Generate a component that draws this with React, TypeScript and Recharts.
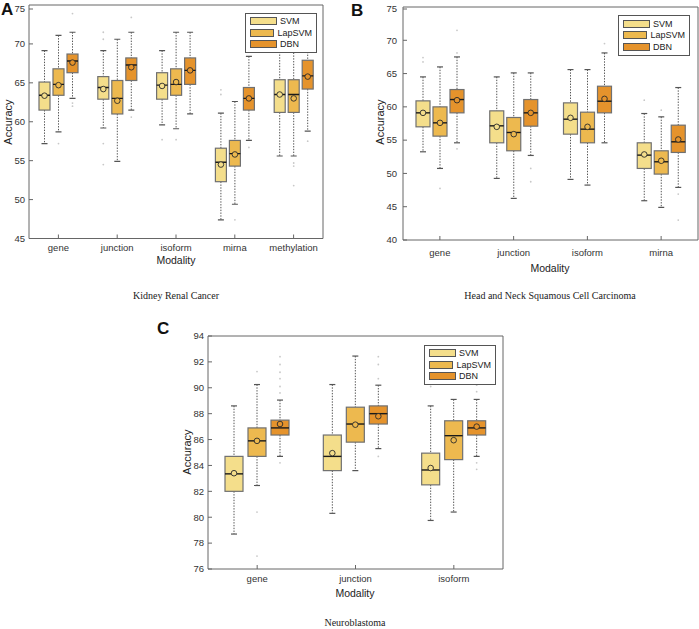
import React from 'react';
import { ComposedChart, Bar, XAxis, YAxis, Legend } from 'recharts';

// every box: [lower whisker, Q1, median, Q3, upper whisker, mean]
const kidneyCats = ['gene', 'junction', 'isoform', 'mirna', 'methylation'];
const kidneySvm = [
  [57.2, 61.5, 63.4, 65.1, 69.15, 63.35],
  [59.2, 62.9, 64.4, 65.8, 69.15, 64.2],
  [59.6, 62.9, 64.7, 66.3, 69.15, 64.6],
  [47.4, 52.3, 54.8, 56.6, 61.1, 54.5],
  [55.6, 61.2, 63.5, 65.4, 69.0, 63.5],
];
const kidneyLap = [
  [58.7, 63.4, 64.8, 66.8, 71.1, 64.7],
  [54.9, 61.0, 63.0, 65.3, 70.6, 62.7],
  [59.1, 63.4, 64.8, 66.8, 71.5, 65.1],
  [49.4, 54.3, 55.9, 57.6, 62.6, 55.8],
  [55.6, 61.2, 63.5, 65.4, 71.4, 63.0],
];
const kidneyDbn = [
  [63.0, 66.3, 67.8, 68.7, 71.5, 67.6],
  [61.5, 65.3, 67.3, 68.2, 71.5, 67.0],
  [61.0, 64.8, 66.6, 68.2, 71.5, 66.6],
  [57.6, 61.5, 63.0, 64.4, 68.4, 63.0],
  [58.8, 64.2, 65.9, 67.9, 71.5, 65.8],
];
const kidneySvmOut = [[], [71.5, 70.6, 57.2, 54.5], [57.7], [64.1, 63.5], []];
const kidneyLapOut = [[57.2], [], [57.7], [47.4], [54.7, 54.3, 51.8]];
const kidneyDbnOut = [[73.9, 62.4, 62.0], [73.4, 60.6], [], [56.7], [57.5]];

const hnscCats = ['gene', 'junction', 'isoform', 'mirna'];
const hnscSvm = [
  [53.25, 57.0, 59.1, 60.9, 64.5, 59.1],
  [49.25, 54.6, 57.15, 59.4, 64.5, 57.0],
  [49.1, 55.9, 58.15, 60.6, 65.6, 58.35],
  [45.9, 50.75, 52.75, 54.6, 59.0, 52.85],
];
const hnscLap = [
  [50.75, 55.6, 57.6, 60.0, 66.0, 57.6],
  [46.25, 53.4, 56.15, 58.4, 65.1, 55.9],
  [48.25, 54.6, 56.65, 59.2, 65.6, 57.0],
  [44.9, 49.9, 51.75, 53.4, 58.5, 51.9],
];
const hnscDbn = [
  [54.6, 59.1, 61.1, 62.6, 67.5, 61.0],
  [52.7, 57.1, 59.1, 61.1, 65.1, 59.1],
  [54.6, 59.1, 60.85, 63.1, 68.1, 61.2],
  [47.9, 53.15, 54.75, 57.25, 62.9, 55.1],
];
const hnscSvmOut = [[67.4, 66.75], [], [], [61.0]];
const hnscLapOut = [[47.75], [], [], [59.5]];
const hnscDbnOut = [[71.5, 68.1, 53.7], [50.75, 48.75], [69.5], [46.9, 43.0]];

const neuroCats = ['gene', 'junction', 'isoform'];
const neuroSvm = [
  [78.7, 82.0, 83.35, 84.7, 88.6, 83.4],
  [80.3, 83.6, 84.7, 86.35, 90.25, 84.95],
  [79.75, 82.5, 83.65, 84.95, 88.6, 83.8],
];
const neuroLap = [
  [82.45, 84.7, 85.9, 86.9, 90.25, 85.9],
  [83.6, 85.8, 87.2, 88.5, 92.45, 87.15],
  [80.4, 84.45, 86.3, 87.45, 89.1, 85.95],
];
const neuroDbn = [
  [84.7, 86.35, 86.9, 87.5, 89.05, 87.2],
  [85.3, 87.2, 88.0, 88.6, 90.2, 87.8],
  [84.7, 86.35, 86.9, 87.45, 89.1, 87.0],
];
const neuroSvmOut = [[], [], [90.1]];
const neuroLapOut = [[91.25, 80.4, 77.0], [], []];
const neuroDbnOut = [[92.4, 91.8, 91.2, 90.7, 90.1, 89.6, 84.2], [92.4, 91.8, 90.7, 84.7], [90.2, 89.7, 84.2, 83.7]];

const kidneyTicks = [45, 50, 55, 60, 65, 70, 75];
const hnscTicks = [40, 45, 50, 55, 60, 65, 70, 75];
const neuroTicks = [76, 78, 80, 82, 84, 86, 88, 90, 92, 94];

const seriesKeys = ['svm', 'lap', 'dbn'];
const seriesNames = ['SVM', 'LapSVM', 'DBN'];
const seriesColors = ['#f4de8b', '#edb94f', '#e5932c'];

const SANS = '"Liberation Sans", Arial, sans-serif';
const SERIF = '"Liberation Serif", "Times New Roman", serif';

function buildRows(cats: string[], stats: number[][][], outs: number[][][]) {
  return cats.map((cat, i) => {
    const row: any = { cat };
    seriesKeys.forEach((k, j) => {
      row[k] = stats[j][i];
      row[k + 'Out'] = outs[j][i];
    });
    return row;
  });
}

const boxShape = (key: string, fill: string, capW: number) => (props: any) => {
  const { x, y, width, height, payload } = props;
  const s: number[] = payload[key];
  const out: number[] = payload[key + 'Out'] || [];
  const top = Math.min(y, y + height);
  const bot = Math.max(y, y + height);
  const k = (bot - top) / (s[4] - s[0]);
  const py = (v: number) => bot - (v - s[0]) * k;
  const cx = x + width / 2;
  return (
    <g>
      {out.map((v, i) => (
        <circle key={i} cx={cx} cy={py(v)} r={0.9} fill="#c8c8c8" />
      ))}
      <line x1={cx} x2={cx} y1={py(s[4])} y2={py(s[3])} stroke="#555" strokeDasharray="1.4 1.4" />
      <line x1={cx} x2={cx} y1={py(s[1])} y2={py(s[0])} stroke="#555" strokeDasharray="1.4 1.4" />
      <line x1={cx - capW / 2} x2={cx + capW / 2} y1={py(s[4])} y2={py(s[4])} stroke="#555" strokeWidth={1.2} />
      <line x1={cx - capW / 2} x2={cx + capW / 2} y1={py(s[0])} y2={py(s[0])} stroke="#555" strokeWidth={1.2} />
      <rect x={x} y={py(s[3])} width={width} height={py(s[1]) - py(s[3])} fill={fill} stroke="#707070" strokeWidth={1.2} />
      <line x1={x} x2={x + width} y1={py(s[2])} y2={py(s[2])} stroke="#1a1a1a" strokeWidth={1.4} />
      <circle cx={cx} cy={py(s[5])} r={2.8} fill={fill} stroke="#2a2a2a" strokeWidth={0.9} />
    </g>
  );
};

const renderLegend = (props: any) => {
  const items = [...(props.payload || [])].sort(
    (a: any, b: any) => seriesNames.indexOf(a.value) - seriesNames.indexOf(b.value)
  );
  return (
    <div style={{ border: '1px solid #555', background: '#fff', padding: '2px 4px', width: 62 }}>
      {items.map((p: any) => (
        <div key={p.value} style={{ display: 'flex', alignItems: 'center', height: 11.5 }}>
          <span style={{ width: 27, height: 8, background: p.color, border: '1px solid #555', boxSizing: 'border-box' }} />
          <span style={{ marginLeft: 3, fontSize: 9, fontFamily: SANS, color: '#222' }}>{p.value}</span>
        </div>
      ))}
    </div>
  );
};

type PanelProps = {
  rows: any[];
  width: number;
  height: number;
  margin: any;
  yWidth: number;
  xHeight: number;
  domain: number[];
  ticks: number[];
  barSize: number;
  barGap: number;
  capW: number;
  yLabelGap: number;
  xLabelGap: number;
  legendPos: { left: number; top: number };
};

const Panel = (p: PanelProps) => {
  const YTick = (t: any) => (
    <g>
      <line x1={t.x} x2={t.x + 4} y1={t.y} y2={t.y} stroke="#666" />
      <text x={t.x - p.yLabelGap} y={t.y} dy="0.35em" textAnchor="end" fontSize={9.5} fontFamily={SANS} fill="#333">
        {t.payload.value}
      </text>
    </g>
  );
  const XTick = (t: any) => (
    <g>
      <line x1={t.x} x2={t.x} y1={t.y} y2={t.y - 4} stroke="#666" />
      <text x={t.x} y={t.y + p.xLabelGap} dy="0.35em" textAnchor="middle" fontSize={9.5} fontFamily={SANS} fill="#333">
        {t.payload.value}
      </text>
    </g>
  );
  return (
    <ComposedChart width={p.width} height={p.height} data={p.rows} margin={p.margin} barSize={p.barSize} barGap={p.barGap}>
      <XAxis dataKey="cat" height={p.xHeight} tickSize={0} tickMargin={0} tickLine={false} stroke="#666" tick={<XTick />} interval={0} />
      <XAxis dataKey="cat" xAxisId="t" orientation="top" height={1} tickSize={-4} tick={false} stroke="#666" interval={0} />
      <YAxis width={p.yWidth} domain={p.domain} ticks={p.ticks} type="number" tickSize={0} tickMargin={0} tickLine={false} stroke="#666" tick={<YTick />} allowDataOverflow />
      <YAxis yAxisId="r" orientation="right" width={1} domain={p.domain} ticks={p.ticks} type="number" tickSize={-4} tick={false} stroke="#666" allowDataOverflow />
      <Legend
        content={renderLegend}
        layout="vertical"
        align="center"
        verticalAlign="middle"
        wrapperStyle={{ left: p.legendPos.left, top: p.legendPos.top, width: 'auto' }}
      />
      {seriesKeys.map((k, j) => (
        <Bar
          key={k}
          name={seriesNames[j]}
          dataKey={(d: any) => [d[k][0], d[k][4]]}
          fill={seriesColors[j]}
          shape={boxShape(k, seriesColors[j], p.capW)}
          isAnimationActive={false}
        />
      ))}
    </ComposedChart>
  );
};

const txt = (s: string, left: number, top: number, extra: any = {}) => (
  <div
    style={{
      position: 'absolute',
      left: left - 150,
      top: top,
      width: 300,
      textAlign: 'center',
      fontFamily: SANS,
      fontSize: 10.5,
      color: '#222',
      lineHeight: '12px',
      whiteSpace: 'nowrap',
      ...extra,
    }}
  >
    {s}
  </div>
);

const vtxt = (s: string, cx: number, cy: number) => (
  <div
    style={{
      position: 'absolute',
      left: cx - 40,
      top: cy - 6,
      width: 80,
      textAlign: 'center',
      fontFamily: SANS,
      fontSize: 11,
      lineHeight: '12px',
      color: '#222',
      transform: 'rotate(-90deg)',
    }}
  >
    {s}
  </div>
);

const letter = (s: string, left: number, top: number) => (
  <div style={{ position: 'absolute', left, top, fontFamily: SANS, fontWeight: 'bold', fontSize: 17, lineHeight: '17px', color: '#111' }}>
    {s}
  </div>
);

export default function App() {
  const kidneyRows = buildRows(kidneyCats, [kidneySvm, kidneyLap, kidneyDbn], [kidneySvmOut, kidneyLapOut, kidneyDbnOut]);
  const hnscRows = buildRows(hnscCats, [hnscSvm, hnscLap, hnscDbn], [hnscSvmOut, hnscLapOut, hnscDbnOut]);
  const neuroRows = buildRows(neuroCats, [neuroSvm, neuroLap, neuroDbn], [neuroSvmOut, neuroLapOut, neuroDbnOut]);

  return (
    <div style={{ position: 'absolute', left: 0, top: 0, width: 699, height: 629, background: '#fff', overflow: 'hidden' }}>
      <div style={{ position: 'absolute', left: 0, top: 0 }}>
        <Panel
          rows={kidneyRows}
          width={330}
          height={265}
          margin={{ top: 4, right: 6, bottom: 0, left: 0 }}
          yWidth={29}
          xHeight={26.5}
          domain={[45, 75]}
          ticks={kidneyTicks}
          barSize={11}
          barGap={3}
          capW={6}
          yLabelGap={4}
          xLabelGap={9.5}
          legendPos={{ left: 245, top: 12.5 }}
        />
      </div>
      <div style={{ position: 'absolute', left: 360, top: 0 }}>
        <Panel
          rows={hnscRows}
          width={339}
          height={270}
          margin={{ top: 6, right: 0, bottom: 0, left: 0 }}
          yWidth={43}
          xHeight={30}
          domain={[40, 75]}
          ticks={hnscTicks}
          barSize={14}
          barGap={3}
          capW={6}
          yLabelGap={6}
          xLabelGap={13}
          legendPos={{ left: 258, top: 15 }}
        />
      </div>
      <div style={{ position: 'absolute', left: 170, top: 320 }}>
        <Panel
          rows={neuroRows}
          width={340}
          height={280}
          margin={{ top: 15, right: 6, bottom: 0, left: 0 }}
          yWidth={38}
          xHeight={31}
          domain={[76, 94]}
          ticks={neuroTicks}
          barSize={18}
          barGap={5}
          capW={6}
          yLabelGap={4}
          xLabelGap={10}
          legendPos={{ left: 254, top: 24.5 }}
        />
      </div>

      {letter('A', 1, 1)}
      {letter('B', 351, 2)}
      {letter('C', 157, 320)}

      {vtxt('Accuracy', 8, 122)}
      {vtxt('Accuracy', 380, 122)}
      {vtxt('Accuracy', 187, 452)}

      {txt('Modality', 176, 254)}
      {txt('Modality', 550, 262)}
      {txt('Modality', 355, 587)}

      {txt('Kidney Renal Cancer', 176, 290, { fontFamily: SERIF, fontSize: 10 })}
      {txt('Head and Neck Squamous Cell Carcinoma', 550, 290, { fontFamily: SERIF, fontSize: 10 })}
      {txt('Neuroblastoma', 355, 617, { fontFamily: SERIF, fontSize: 10 })}
    </div>
  );
}
